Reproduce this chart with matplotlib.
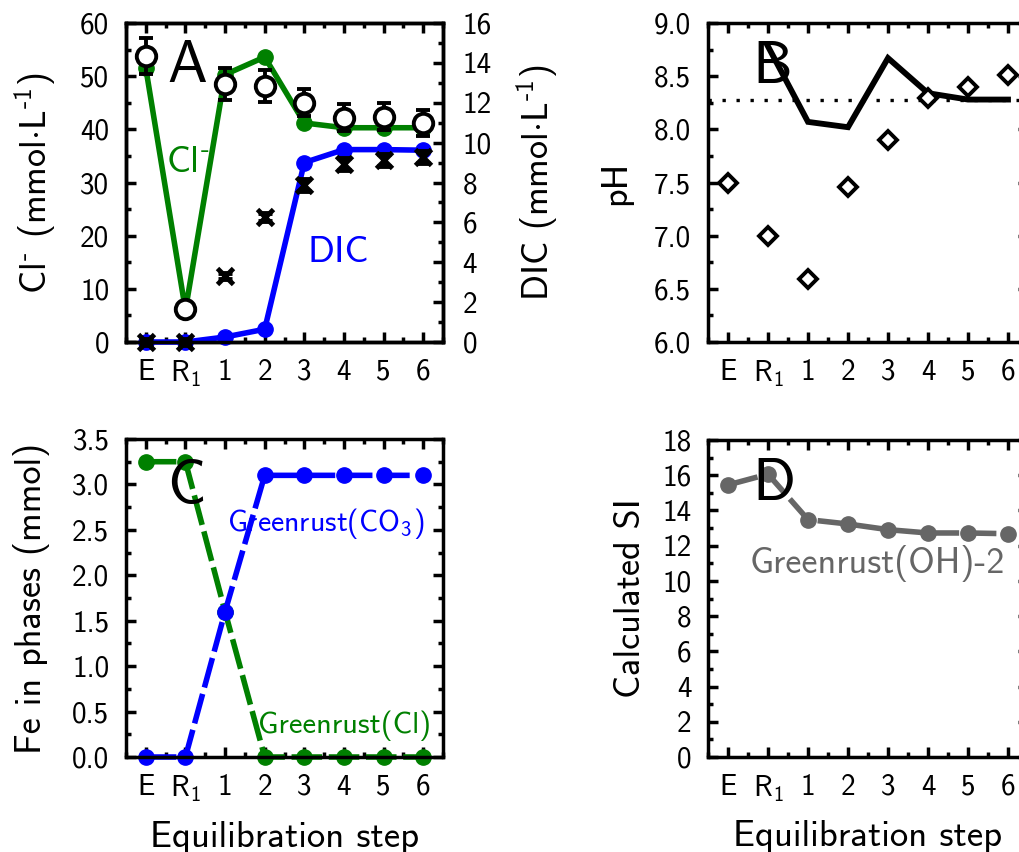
import matplotlib
matplotlib.use('Agg')
import matplotlib.pyplot as plt
from matplotlib.ticker import MultipleLocator

plt.rcParams['font.family'] = ['cmss10', 'DejaVu Sans']
plt.rcParams['mathtext.fontset'] = 'custom'
plt.rcParams['mathtext.rm'] = 'cmss10'
plt.rcParams['mathtext.it'] = 'cmss10'
plt.rcParams['mathtext.sf'] = 'cmss10'
plt.rcParams['axes.unicode_minus'] = False
plt.rcParams['axes.linewidth'] = 2.5

# equilibration steps
steps = ['E', 'R$_1$', '1', '2', '3', '4', '5', '6']
xs = list(range(len(steps)))

# panel A: chloride and DIC
cl_model = [51.5, 6.0, 50.3, 53.6, 41.2, 40.3, 40.3, 40.3]
cl_meas = [53.8, 6.3, 48.6, 48.2, 45.0, 42.2, 42.4, 41.2]
cl_err = [3.3, 0.5, 3.0, 3.0, 2.5, 2.5, 2.5, 2.5]
dic_model = [0.0, 0.0, 0.25, 0.64, 9.0, 9.65, 9.65, 9.62]
dic_meas = [0.0, 0.0, 3.32, 6.26, 7.86, 8.95, 9.15, 9.28]
dic_err = [0.15, 0.15, 0.15, 0.2, 0.3, 0.3, 0.3, 0.3]

# panel B: pH
ph_meas = [7.50, 7.00, 6.59, 7.46, 7.90, 8.29, 8.40, 8.51]
ph_model_x = [1, 2, 3, 4, 5, 6, 7]
ph_model = [8.78, 8.07, 8.02, 8.67, 8.34, 8.28, 8.28]
ph_ref = 8.28

# panel C: Fe in greenrust phases
gr_co3 = [0.0, 0.0, 1.6, 3.1, 3.1, 3.1, 3.1, 3.1]
gr_cl = [3.25, 3.25, 1.6, 0.0, 0.0, 0.0, 0.0, 0.0]

# panel D: saturation index
si_oh = [15.45, 16.06, 13.48, 13.23, 12.91, 12.72, 12.72, 12.68]

green = '#008000'
blue = '#0000ff'
grey = '#666666'

fig = plt.figure(figsize=(10.19, 8.52), dpi=100)
W, H = 1019, 852


def box(l, t, r, b):
    return [l / W, 1 - b / H, (r - l) / W, (b - t) / H]


def style(ax, ymaj, ymin, right=True):
    ax.set_xlim(-0.5, 7.5)
    ax.set_xticks(xs)
    ax.set_xticklabels(steps)
    ax.xaxis.set_minor_locator(MultipleLocator(0.5))
    ax.yaxis.set_major_locator(MultipleLocator(ymaj))
    ax.yaxis.set_minor_locator(MultipleLocator(ymin))
    ax.tick_params(which='both', direction='in', top=True, right=right,
                   width=2.5, labelsize=21)
    ax.tick_params(which='major', length=7, pad=12)
    ax.tick_params(which='minor', length=3.5)


def noclip(container):
    for a in container.get_children():
        a.set_clip_on(False)


lw = 4.0
ms = 11
dash = (5.5, 1.2)
lab = 26

# ---- A ----
axA = fig.add_axes(box(126, 23, 443, 342))
style(axA, 10, 5, right=False)
axA.set_ylim(0, 60)
axA.set_yticklabels([str(int(v)) for v in axA.get_yticks()])
axA.plot(xs, cl_model, color=green, lw=lw, marker='o', ms=ms,
         solid_joinstyle='miter', zorder=2, clip_on=False)
eb = axA.errorbar(xs, cl_meas, yerr=cl_err, fmt='o', ms=14, mfc='white', mec='black',
                  mew=2.8, ecolor='black', elinewidth=2.8, capsize=5, capthick=2.8, zorder=3)
noclip(eb)
axA.set_ylabel('Cl$^{\\text{-}}$ (mmol$\\cdot$L$^{\\text{-}1}$)', fontsize=lab)
axA.yaxis.set_label_coords(-0.215, 0.5)
axA.text(0.13, 0.815, 'A', transform=axA.transAxes, fontsize=43)
axA.text(0.126, 0.533, 'Cl$^{\\text{-}}$', transform=axA.transAxes, fontsize=27, color=green)
axA.text(0.571, 0.251, 'DIC', transform=axA.transAxes, fontsize=27, color=blue)

axA2 = axA.twinx()
axA2.set_ylim(0, 16)
axA2.yaxis.set_major_locator(MultipleLocator(2))
axA2.yaxis.set_minor_locator(MultipleLocator(1))
axA2.tick_params(which='both', direction='in', width=2.5, labelsize=21)
axA2.tick_params(which='major', length=7, pad=14)
axA2.tick_params(which='minor', length=3.5)
axA2.plot(xs, dic_model, color=blue, lw=lw, marker='o', ms=ms, zorder=2, clip_on=False)
eb = axA2.errorbar(xs, dic_meas, yerr=dic_err, fmt='x', ms=12, mec='black', mew=3.5,
                   ecolor='black', elinewidth=2.8, capsize=5, capthick=2.8, zorder=3)
noclip(eb)
axA2.set_ylabel('DIC (mmol$\\cdot$L$^{\\text{-}1}$)', fontsize=lab)
axA2.yaxis.set_label_coords(1.224, 0.5)

# ---- B ----
axB = fig.add_axes(box(708, 23, 1028, 342))
style(axB, 0.5, 0.25)
axB.set_ylim(6, 9)
axB.set_yticklabels(['%.1f' % v for v in axB.get_yticks()])
axB.axhline(ph_ref, color='black', lw=2.4, ls=(0, (1, 3.2)))
axB.plot(ph_model_x, ph_model, color='black', lw=4.2, solid_joinstyle='miter')
axB.plot(xs, ph_meas, ls='none', marker='D', ms=9, mfc='white', mec='black', mew=2.8)
axB.set_ylabel('pH', fontsize=lab)
axB.yaxis.set_label_coords(-0.2375, 0.5)
axB.text(0.1375, 0.812, 'B', transform=axB.transAxes, fontsize=43)

# ---- C ----
axC = fig.add_axes(box(126, 439, 443, 757))
style(axC, 0.5, 0.25)
axC.set_ylim(0, 3.5)
axC.set_yticklabels(['%.1f' % v for v in axC.get_yticks()])
axC.plot(xs, gr_cl, color=green, lw=lw, ls='--', dashes=dash, marker='o', ms=ms, clip_on=False)
axC.plot(xs, gr_co3, color=blue, lw=lw, ls='--', dashes=dash, marker='o', ms=ms, clip_on=False)
axC.set_ylabel('Fe in phases (mmol)', fontsize=lab)
axC.yaxis.set_label_coords(-0.24, 0.5)
axC.set_xlabel('Equilibration step', fontsize=26.5)
axC.xaxis.set_label_coords(0.5, -0.2)
axC.text(0.13, 0.80, 'C', transform=axC.transAxes, fontsize=43)
axC.text(0.32, 0.71, 'Greenrust(CO$_3$)', transform=axC.transAxes, fontsize=21.5, color=blue)
axC.text(0.416, 0.075, 'Greenrust(Cl)', transform=axC.transAxes, fontsize=22, color=green)

# ---- D ----
axD = fig.add_axes(box(708, 440, 1028, 757))
style(axD, 2, 1)
axD.set_ylim(0, 18)
axD.set_yticklabels([str(int(v)) for v in axD.get_yticks()])
axD.plot(xs, si_oh, color=grey, lw=lw, ls='--', dashes=dash, marker='o', ms=ms)
axD.set_ylabel('Calculated SI', fontsize=lab)
axD.yaxis.set_label_coords(-0.19, 0.5)
axD.set_xlabel('Equilibration step', fontsize=26.5)
axD.xaxis.set_label_coords(0.5, -0.2)
axD.text(0.1375, 0.81, 'D', transform=axD.transAxes, fontsize=43)
axD.text(0.13, 0.58, 'Greenrust(OH)-2', transform=axD.transAxes, fontsize=26, color=grey)

fig.savefig('out.png', dpi=100)
